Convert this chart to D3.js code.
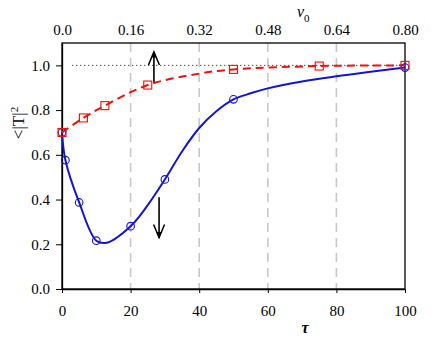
<!DOCTYPE html>
<html>
<head>
<meta charset="utf-8">
<script src="https://cdn.jsdelivr.net/npm/d3@7"></script>
<style>
  body { margin: 0; background: #fff; }
</style>
</head>
<body>
<svg id="chart" width="435" height="338"></svg>
<script>
// tick labels
const tauTicks = [0, 20, 40, 60, 80, 100];
const gridTicks = [20, 40, 60, 80];
const yTicks = [0, 0.2, 0.4, 0.6, 0.8, 1.0];
const v0Ticks = [0, 0.16, 0.32, 0.48, 0.64, 0.80];
const v0Labels = ["0.0", "0.16", "0.32", "0.48", "0.64", "0.80"];

// red series (squares, dashed)
const redTau = [0, 6.25, 12.5, 25, 50, 75, 100];
const redVal = [0.70, 0.765, 0.82, 0.912, 0.982, 0.997, 1.0];
const redLineTau = [0, 6.25, 12.5, 25, 40, 50, 75, 100];
const redLineVal = [0.70, 0.765, 0.82, 0.912, 0.963, 0.982, 0.997, 1.0];

// blue series (circles, solid)
const blueTau = [0, 1, 5, 10, 20, 30, 50, 100];
const blueVal = [0.70, 0.576, 0.387, 0.216, 0.281, 0.490, 0.848, 0.99];
const blueLineTau = [0, 1, 5, 10, 13, 20, 25, 30, 35, 40, 45, 50, 55, 60, 70, 80, 90, 100];
const blueLineVal = [0.70, 0.576, 0.387, 0.216, 0.207, 0.281, 0.375, 0.490, 0.615, 0.72, 0.795, 0.848, 0.875, 0.897, 0.928, 0.951, 0.971, 0.99];

// arrows (tau, from, to)
const arrowTau = [26.8, 28.3];
const arrowFrom = [0.925, 0.41];
const arrowTo = [1.06, 0.23];

const serif = "Liberation Serif";

const margin = {top: 43, right: 30, bottom: 49, left: 62};
const width = 435 - margin.left - margin.right;
const height = 338 - margin.top - margin.bottom;

const svg = d3.select("#chart").attr("font-family", serif);
const g = svg.append("g").attr("transform", `translate(${margin.left},${margin.top})`);

const xScale = d3.scaleLinear().domain([0, 100]).range([0, width]);
const vScale = d3.scaleLinear().domain([0, 0.8]).range([0, width]);
const yScale = d3.scaleLinear().domain([0, 1.1]).range([height, 0]);

// gridlines
g.selectAll(".grid").data(gridTicks).join("line")
  .attr("class", "grid")
  .attr("x1", d => xScale(d)).attr("x2", d => xScale(d))
  .attr("y1", 0).attr("y2", height)
  .attr("stroke", "#c8c8c8").attr("stroke-width", 1.6)
  .attr("stroke-dasharray", "9,6");

// dotted line at 1.0
g.append("line")
  .attr("x1", xScale(3)).attr("x2", xScale(100))
  .attr("y1", yScale(1)).attr("y2", yScale(1))
  .attr("stroke", "#000").attr("stroke-width", 1)
  .attr("stroke-dasharray", "1,3");

// axes
const xAxis = g.append("g").attr("transform", `translate(0,${height})`)
  .call(d3.axisBottom(xScale).tickValues(tauTicks).tickSize(4).tickSizeOuter(0).tickPadding(12));
const yAxis = g.append("g")
  .call(d3.axisLeft(yScale).tickValues(yTicks).tickFormat(d3.format(".1f")).tickSize(6).tickSizeOuter(0).tickPadding(6));
const topAxis = g.append("g")
  .call(d3.axisTop(vScale).tickValues(v0Ticks).tickFormat((d, i) => v0Labels[i]).tickSize(0).tickPadding(8));

[xAxis, yAxis, topAxis].forEach(a => {
  a.attr("font-family", serif).attr("font-size", 15);
  a.selectAll("text").attr("fill", "#000");
  a.selectAll("line").attr("stroke", "#000");
  a.select(".domain").attr("stroke", "#000").attr("stroke-width", 1.3);
});
topAxis.select(".domain").remove();

// frame
g.append("rect").attr("width", width).attr("height", height)
  .attr("fill", "none").attr("stroke", "#000").attr("stroke-width", 1.3);

// lines
const line = d3.line()
  .x(d => xScale(d[0]))
  .y(d => yScale(d[1]))
  .curve(d3.curveCatmullRom.alpha(0.5));

g.append("path")
  .datum(blueLineTau.map((t, i) => [t, blueLineVal[i]]))
  .attr("d", line)
  .attr("fill", "none").attr("stroke", "#1414d2").attr("stroke-width", 2);

g.append("path")
  .datum(redLineTau.map((t, i) => [t, redLineVal[i]]))
  .attr("d", line)
  .attr("fill", "none").attr("stroke", "#f01010").attr("stroke-width", 2)
  .attr("stroke-dasharray", "8,5");

// markers
g.selectAll(".blueMark").data(blueTau.map((t, i) => [t, blueVal[i]])).join("circle")
  .attr("class", "blueMark")
  .attr("cx", d => xScale(d[0])).attr("cy", d => yScale(d[1]))
  .attr("r", 3.8)
  .attr("fill", "none").attr("stroke", "#1414d2").attr("stroke-width", 1.1);

const sq = 8;
g.selectAll(".redMark").data(redTau.map((t, i) => [t, redVal[i]])).join("rect")
  .attr("class", "redMark")
  .attr("x", d => xScale(d[0]) - sq / 2).attr("y", d => yScale(d[1]) - sq / 2)
  .attr("width", sq).attr("height", sq)
  .attr("fill", "none").attr("stroke", "#f01010").attr("stroke-width", 1.1);

// arrows
arrowTau.forEach((t, i) => {
  const x = xScale(t), y1 = yScale(arrowFrom[i]), y2 = yScale(arrowTo[i]);
  const dir = y2 < y1 ? 1 : -1;
  g.append("line").attr("x1", x).attr("x2", x).attr("y1", y1).attr("y2", y2)
    .attr("stroke", "#000").attr("stroke-width", 1.6);
  g.append("path")
    .attr("d", `M${x - 5.5},${y2 + dir * 13}L${x},${y2}L${x + 5.5},${y2 + dir * 13}`)
    .attr("fill", "none").attr("stroke", "#000").attr("stroke-width", 1.5);
  g.append("path")
    .attr("d", `M${x - 2},${y2 + dir * 5}L${x},${y2}L${x + 2},${y2 + dir * 5}Z`)
    .attr("fill", "#000").attr("stroke", "#000").attr("stroke-width", 1);
});

// axis titles
svg.append("text")
  .attr("x", 305).attr("y", 333)
  .attr("text-anchor", "middle")
  .attr("font-size", 16).attr("font-style", "italic").attr("font-weight", "bold")
  .text("τ");

const v0Label = svg.append("text")
  .attr("x", 297).attr("y", 17)
  .attr("font-size", 16).attr("font-style", "italic");
v0Label.append("tspan").text("v");
v0Label.append("tspan").attr("dy", 5).attr("font-size", 11).attr("font-style", "normal").text("0");

const yLabel = svg.append("text")
  .attr("transform", "translate(24,123) rotate(-90)")
  .attr("text-anchor", "middle")
  .attr("font-size", 17);
yLabel.append("tspan").text("<|T|");
yLabel.append("tspan").attr("dy", -6).attr("font-size", 11).text("2");
</script>
</body>
</html>
